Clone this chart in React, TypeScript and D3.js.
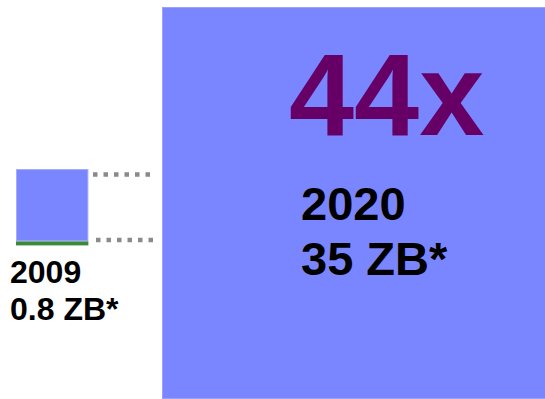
import React from "react";
import * as d3 from "d3";

const years = ["2009", "2020"];
const volumesZB = [0.8, 35];
const volumeLabels = ["0.8 ZB*", "35 ZB*"];
const growthLabel = "44x";

const W = 545;
const H = 399;

export default function App() {
  // side length of each square scaled from the data volume
  const side = d3.scalePow().exponent(0.45).domain([0, 35]).range([0, 391]);
  const sSmall = side(volumesZB[0]);
  const sBig = side(volumesZB[1]);

  const smallX = 16;
  const smallY = 169;
  const bigX = 162;
  const bigY = 7;

  const blue = "#7a86ff";
  const font = "'Liberation Sans', Arial, sans-serif";

  return (
    <svg
      width={W}
      height={H}
      style={{ position: "absolute", left: 0, top: 0, background: "#fff" }}
    >
      {/* big square (2020) */}
      <rect
        x={bigX + 0.5}
        y={bigY + 0.5}
        width={sBig}
        height={sBig}
        fill={blue}
        stroke="#9aa2ff"
        strokeWidth={1}
      />
      {/* small square (2009) */}
      <rect
        x={smallX + 0.5}
        y={smallY + 0.5}
        width={sSmall}
        height={sSmall}
        fill={blue}
        stroke="#a6adf5"
        strokeWidth={1}
      />
      <rect x={smallX} y={smallY + sSmall + 1} width={sSmall + 1} height={4} fill="#3b8a3b" />

      {/* dotted connector lines */}
      <line
        x1={93}
        x2={152}
        y1={174.5}
        y2={174.5}
        stroke="#8a8a8a"
        strokeWidth={4.5}
        strokeDasharray="4.5 6"
      />
      <line
        x1={96}
        x2={155}
        y1={240}
        y2={240}
        stroke="#8a8a8a"
        strokeWidth={4.5}
        strokeDasharray="4.5 6"
      />

      {/* labels for 2009 */}
      <text x={10} y={283} fontFamily={font} fontWeight="bold" fontSize={32} fill="#000">
        {years[0]}
      </text>
      <text x={10} y={320} fontFamily={font} fontWeight="bold" fontSize={32} fill="#000">
        {volumeLabels[0]}
      </text>

      {/* labels for 2020 */}
      <text x={289} y={135} fontFamily={font} fontWeight="bold" fontSize={117} fill="#660066">
        {growthLabel}
      </text>
      <text x={301} y={220} fontFamily={font} fontWeight="bold" fontSize={47} fill="#000">
        {years[1]}
      </text>
      <text x={301} y={275} fontFamily={font} fontWeight="bold" fontSize={47} fill="#000">
        {volumeLabels[1]}
      </text>
    </svg>
  );
}
